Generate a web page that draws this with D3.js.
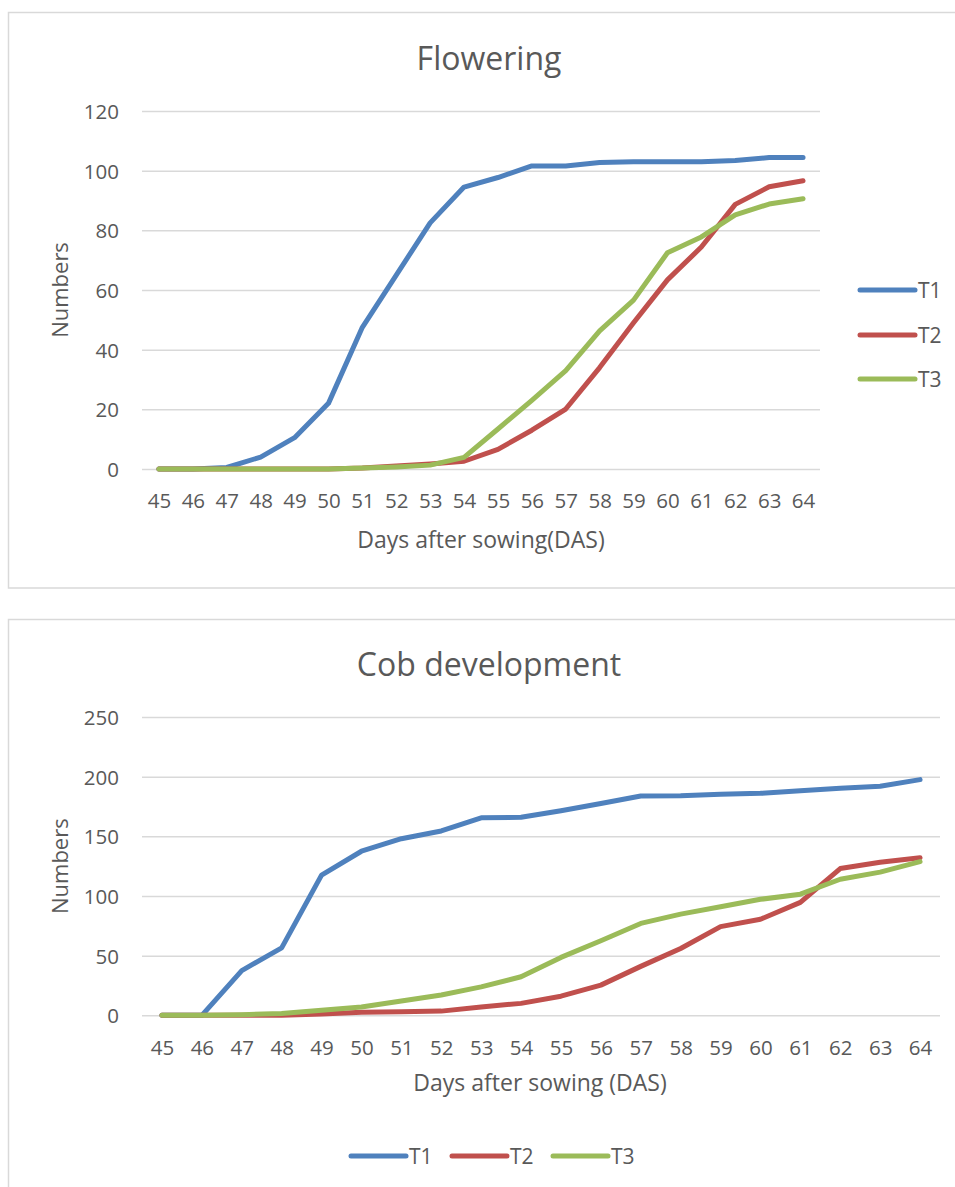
<!DOCTYPE html>
<html>
<head>
<meta charset="utf-8">
<script src="https://cdn.jsdelivr.net/npm/d3@7"></script>
<style>
  html, body { margin: 0; padding: 0; background: #fff; }
  svg { display: block; font-family: "Open Sans", "Noto Sans", sans-serif; }
</style>
</head>
<body>
<svg id="chart" width="955" height="1187"></svg>
<script>
// ---- Data ----
const days = [45,46,47,48,49,50,51,52,53,54,55,56,57,58,59,60,61,62,63,64];
const seriesNames = ["T1","T2","T3"];
const seriesColors = ["#4f81bd","#c0504d","#9bbb59"];

const flowerT1 = [0,0,0.5,4,10.5,22,47.5,65,82.5,94.5,97.7,101.6,101.6,102.7,103,103,103,103.4,104.4,104.4];
const flowerT2 = [0,0,0,0,0,0,0.3,1,1.7,2.6,6.6,13,20.1,34,49,63.4,74.4,88.7,94.6,96.6];
const flowerT3 = [0,0,0,0,0,0,0.3,0.7,1.3,3.9,13.4,23,33,46.3,56.6,72.5,77.8,85.2,88.8,90.6];

const cobT1 = [0,0,37.5,56.5,117.5,137.5,148,154.5,165.5,166,171.5,177.5,183.8,184,185.2,186,188.2,190.3,192,197.5];
const cobT2 = [0,0,0,0,1,2.5,3,3.5,7,10,16,25.3,41,56,74.3,80.5,94.6,123,128.3,132];
const cobT3 = [0,0,0.5,1.5,4.2,7,12,17,23.8,32.3,48.5,62.5,77,84.8,91,97.2,101.5,114,120,128.8];

const flowerTicks = [0,20,40,60,80,100,120];
const cobTicks = [0,50,100,150,200,250];

const svg = d3.select("#chart");
const textColor = "#595959";
const gridColor = "#d9d9d9";

// Frames
svg.append("rect").attr("x",8.5).attr("y",12.5).attr("width",980).attr("height",575.5)
  .attr("fill","#fff").attr("stroke",gridColor).attr("stroke-width",1.5);
svg.append("rect").attr("x",8.5).attr("y",619.5).attr("width",980).attr("height",620)
  .attr("fill","#fff").attr("stroke",gridColor).attr("stroke-width",1.5);

function drawChart(cfg) {
  const g = svg.append("g");
  const x = d3.scalePoint().domain(days).range([cfg.left, cfg.right]).padding(0.5);
  const y = d3.scaleLinear().domain([0, d3.max(cfg.ticks)]).range([cfg.bottom, cfg.top]);

  // Grid
  const grid = g.append("g").attr("transform",`translate(${cfg.left},0)`)
    .call(d3.axisLeft(y).tickValues(cfg.ticks).tickSize(-(cfg.right-cfg.left)).tickFormat(""));
  grid.select(".domain").remove();
  grid.selectAll("line").attr("stroke",gridColor).attr("stroke-width",1.5);

  // Y labels
  const ya = g.append("g").attr("transform",`translate(${cfg.left-23},0)`)
    .call(d3.axisLeft(y).tickValues(cfg.ticks).tickSize(0).tickPadding(0));
  ya.select(".domain").remove();
  ya.selectAll("text").attr("fill",textColor).style("font-size","20.5px")
    .style("font-family","'Open Sans', sans-serif").attr("dy","0.36em");

  // X labels
  const xa = g.append("g").attr("transform",`translate(0,${cfg.bottom})`)
    .call(d3.axisBottom(x).tickSize(0).tickPadding(0));
  xa.select(".domain").remove();
  xa.selectAll("text").attr("fill",textColor).style("font-size","20.5px")
    .style("font-family","'Open Sans', sans-serif")
    .attr("y",32).attr("dy","0.36em");

  // Lines
  const line = d3.line().x((d,i)=>x(days[i])).y(d=>y(d));
  cfg.series.forEach((s,k)=>{
    g.append("path").datum(s).attr("d",line).attr("fill","none")
      .attr("stroke",seriesColors[k]).attr("stroke-width",5)
      .attr("stroke-linejoin","round").attr("stroke-linecap","round");
  });

  // Title
  g.append("text").attr("x",489).attr("y",cfg.titleY).attr("text-anchor","middle")
    .attr("fill",textColor).style("font-size","32px").text(cfg.title);
  // X title
  g.append("text").attr("x",cfg.xTitleX).attr("y",cfg.xTitleY).attr("text-anchor","middle")
    .attr("fill",textColor).style("font-size","23px").text(cfg.xTitle);
  // Y title
  g.append("text").attr("transform",`translate(68,${(cfg.top+cfg.bottom)/2}) rotate(-90)`)
    .attr("text-anchor","middle").attr("fill",textColor).style("font-size","22px").text("Numbers");

  // Legend
  cfg.legend.forEach((p,k)=>{
    g.append("line").attr("x1",p[0]).attr("x2",p[0]+55).attr("y1",p[1]).attr("y2",p[1])
      .attr("stroke",seriesColors[k]).attr("stroke-width",5).attr("stroke-linecap","round");
    g.append("text").attr("x",p[0]+58).attr("y",p[1]).attr("dy","0.36em")
      .attr("fill",textColor).style("font-size","21px").text(seriesNames[k]);
  });
}

drawChart({
  left:142, right:820, top:111, bottom:469, ticks:flowerTicks,
  series:[flowerT1, flowerT2, flowerT3],
  title:"Flowering", titleY:70, xTitle:"Days after sowing(DAS)", xTitleX:481, xTitleY:548,
  legend:[[860,290],[860,335],[860,379]]
});

drawChart({
  left:142, right:940, top:717, bottom:1015.3, ticks:cobTicks,
  series:[cobT1, cobT2, cobT3],
  title:"Cob development", titleY:676, xTitle:"Days after sowing (DAS)", xTitleX:540, xTitleY:1091,
  legend:[[351,1156],[452,1156],[553,1156]]
});
</script>
</body>
</html>
